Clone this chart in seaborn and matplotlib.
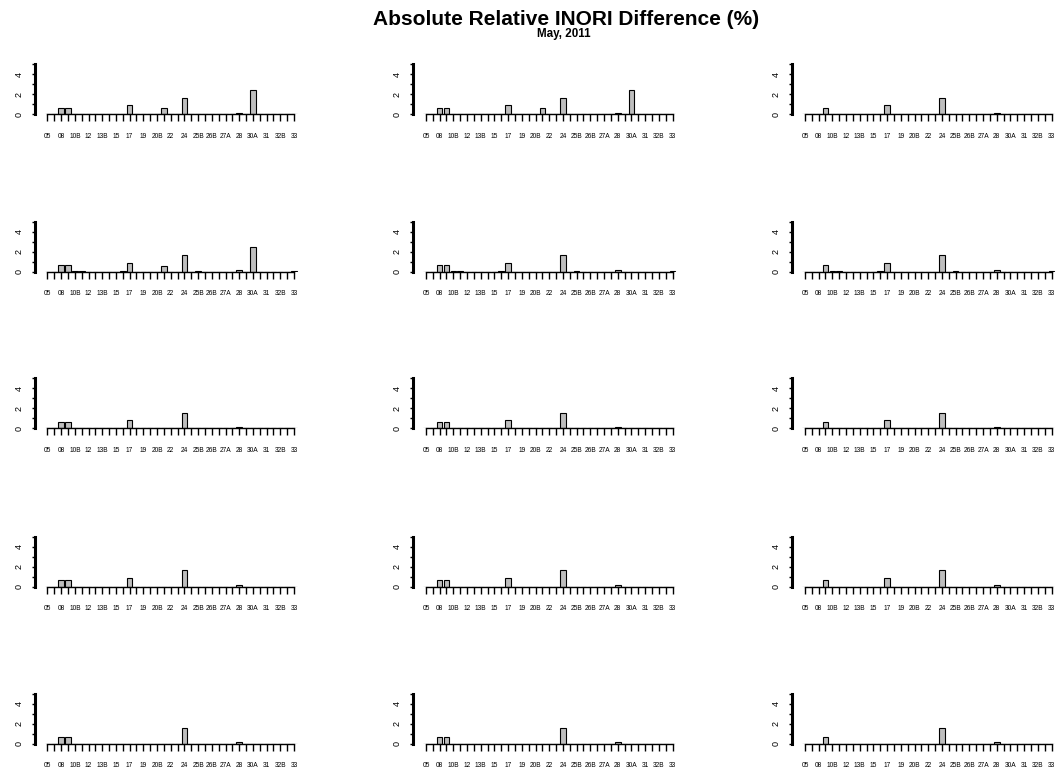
import matplotlib
matplotlib.use("Agg")
import matplotlib.pyplot as plt
import seaborn as sns
import numpy as np
import pandas as pd

sns.set_style("white")
plt.rcParams['font.family'] = ['Liberation Sans', 'DejaVu Sans']
plt.rcParams['text.color'] = 'black'

categories = ["05", "07", "08", "10A", "10B", "11", "12", "13A", "13B", "14",
              "15", "16", "17", "18", "19", "20A", "20B", "21", "22", "23",
              "24", "25A", "25B", "26A", "26B", "26C", "27A", "27B", "28", "29",
              "30A", "30B", "31", "32A", "32B", "32C", "33"]

# values per panel (rows 1..5, columns 1..3)
r1c1 = [0, 0, 0.67, 0.67, 0, 0, 0, 0, 0, 0, 0, 0, 0.9, 0, 0, 0, 0, 0.6, 0, 0,
        1.63, 0, 0, 0, 0, 0, 0, 0, 0.17, 0, 2.47, 0, 0, 0, 0, 0, 0]
r1c2 = [0, 0, 0.67, 0.67, 0, 0, 0, 0, 0, 0, 0, 0, 0.9, 0, 0, 0, 0, 0.6, 0, 0,
        1.63, 0, 0, 0, 0, 0, 0, 0, 0.15, 0, 2.47, 0, 0, 0, 0, 0, 0]
r1c3 = [0, 0, 0, 0.67, 0, 0, 0, 0, 0, 0, 0, 0, 0.9, 0, 0, 0, 0, 0, 0, 0,
        1.63, 0, 0, 0, 0, 0, 0, 0, 0.17, 0, 0, 0, 0, 0, 0, 0, 0]
r2c1 = [0, 0, 0.63, 0.63, 0.03, 0.03, 0, 0, 0, 0, 0, 0.03, 0.9, 0, 0, 0, 0, 0.57, 0, 0,
        1.63, 0, 0.03, 0, 0, 0, 0, 0, 0.13, 0, 2.43, 0, 0, 0, 0, 0, 0.03]
r2c2 = [0, 0, 0.63, 0.63, 0.03, 0.03, 0, 0, 0, 0, 0, 0.03, 0.9, 0, 0, 0, 0, 0, 0, 0,
        1.63, 0, 0.03, 0, 0, 0, 0, 0, 0.13, 0, 0, 0, 0, 0, 0, 0, 0.03]
r2c3 = [0, 0, 0, 0.63, 0.03, 0.03, 0, 0, 0, 0, 0, 0.03, 0.9, 0, 0, 0, 0, 0, 0, 0,
        1.63, 0, 0.03, 0, 0, 0, 0, 0, 0.13, 0, 0, 0, 0, 0, 0, 0, 0.03]
r3c1 = [0, 0, 0.6, 0.6, 0.01, 0.01, 0, 0, 0, 0, 0, 0.01, 0.85, 0, 0, 0, 0, 0, 0, 0,
        1.58, 0, 0.01, 0, 0, 0, 0, 0, 0.1, 0, 0, 0, 0, 0, 0, 0, 0.01]
r3c2 = [0, 0, 0.6, 0.6, 0.01, 0.01, 0, 0, 0, 0, 0, 0.01, 0.85, 0, 0, 0, 0, 0, 0, 0,
        1.58, 0, 0.01, 0, 0, 0, 0, 0, 0.1, 0, 0, 0, 0, 0, 0, 0, 0.01]
r3c3 = [0, 0, 0, 0.6, 0.01, 0.01, 0, 0, 0, 0, 0, 0.01, 0.85, 0, 0, 0, 0, 0, 0, 0,
        1.58, 0, 0.01, 0, 0, 0, 0, 0, 0.1, 0, 0, 0, 0, 0, 0, 0, 0.01]
r4c1 = [0, 0, 0.65, 0.65, 0, 0, 0, 0, 0, 0, 0, 0, 0.9, 0, 0, 0, 0, 0, 0, 0,
        1.63, 0, 0, 0, 0, 0, 0, 0, 0.12, 0, 0, 0, 0, 0, 0, 0, 0]
r4c2 = [0, 0, 0.65, 0.65, 0, 0, 0, 0, 0, 0, 0, 0, 0.9, 0, 0, 0, 0, 0, 0, 0,
        1.63, 0, 0, 0, 0, 0, 0, 0, 0.12, 0, 0, 0, 0, 0, 0, 0, 0]
r4c3 = [0, 0, 0, 0.65, 0, 0, 0, 0, 0, 0, 0, 0, 0.9, 0, 0, 0, 0, 0, 0, 0,
        1.63, 0, 0, 0, 0, 0, 0, 0, 0.12, 0, 0, 0, 0, 0, 0, 0, 0]
r5c1 = [0, 0, 0.63, 0.63, 0.02, 0, 0, 0, 0, 0, 0, 0.02, 0, 0, 0, 0, 0, 0, 0, 0,
        1.6, 0, 0.02, 0, 0, 0, 0, 0, 0.13, 0, 0, 0, 0, 0, 0, 0, 0.02]
r5c2 = [0, 0, 0.63, 0.63, 0.02, 0, 0, 0, 0, 0, 0, 0.02, 0, 0, 0, 0, 0, 0, 0, 0,
        1.6, 0, 0.02, 0, 0, 0, 0, 0, 0.13, 0, 0, 0, 0, 0, 0, 0, 0.02]
r5c3 = [0, 0, 0, 0.63, 0.02, 0, 0, 0, 0, 0, 0, 0.02, 0, 0, 0, 0, 0, 0, 0, 0,
        1.6, 0, 0.02, 0, 0, 0, 0, 0, 0.13, 0, 0, 0, 0, 0, 0, 0, 0.02]

panels = [[r1c1, r1c2, r1c3],
          [r2c1, r2c2, r2c3],
          [r3c1, r3c2, r3c3],
          [r4c1, r4c2, r4c3],
          [r5c1, r5c2, r5c3]]

y_ticks = [0, 1, 2, 3, 4, 5]
y_ticklabels = ["0", "", "2", "", "4", ""]

title = "Absolute Relative INORI Difference (%)"
subtitle = "May, 2011"

W, H = 1056, 772
fig = plt.figure(figsize=(W / 100, H / 100), dpi=100)

col_left = [34.5, 413, 792]
row_base = [114.3, 271.7, 428.3, 586.5, 743.7]
n = len(categories)
margin = 1.89
tick_sp = 6.85
ax_w = (n - 1 + 2 * margin) * tick_sp
ax_h = 50

xlabels = [c if i % 2 == 0 else "" for i, c in enumerate(categories)]

for r, base in enumerate(row_base):
    for c, left in enumerate(col_left):
        ax = fig.add_axes([left / W, (H - base) / H, ax_w / W, ax_h / H])
        df = pd.DataFrame({"cat": categories, "val": panels[r][c]})
        sns.barplot(data=df, x="cat", y="val", order=categories, color="#BEBEBE",
                    saturation=1, edgecolor="black", linewidth=0.8, width=0.83,
                    ax=ax)
        ax.set_xlim(-margin, n - 1 + margin)
        ax.set_ylim(0, 5)
        ax.set_xlabel("")
        ax.set_ylabel("")
        for s in ["top", "right"]:
            ax.spines[s].set_visible(False)
        ax.spines["bottom"].set_bounds(0, n - 1)
        ax.spines["bottom"].set_linewidth(1.0)
        ax.spines["left"].set_linewidth(2.2)
        ax.spines["left"].set_color("black")
        ax.spines["bottom"].set_color("black")
        ax.set_xticks(range(n))
        ax.set_xticklabels(xlabels, fontsize=4.8)
        ax.set_yticks(y_ticks)
        ax.set_yticklabels(y_ticklabels, fontsize=6.5, rotation=90, va="center")
        ax.tick_params(axis="x", direction="out", length=4.8, width=1.0,
                       pad=8.5, colors="black", bottom=True)
        ax.tick_params(axis="y", direction="out", length=2.5, width=1.0,
                       pad=5.5, colors="black", left=True)
        ax.patch.set_alpha(0)

fig.text(566 / W, 1 - 19.5 / H, title, ha="center", va="center",
         fontsize=15, fontweight="bold", color="black")
fig.text(564 / W, 1 - 34.5 / H, subtitle, ha="center", va="center",
         fontsize=8.4, fontweight="bold", color="black")

fig.savefig("out.png", dpi=100)
